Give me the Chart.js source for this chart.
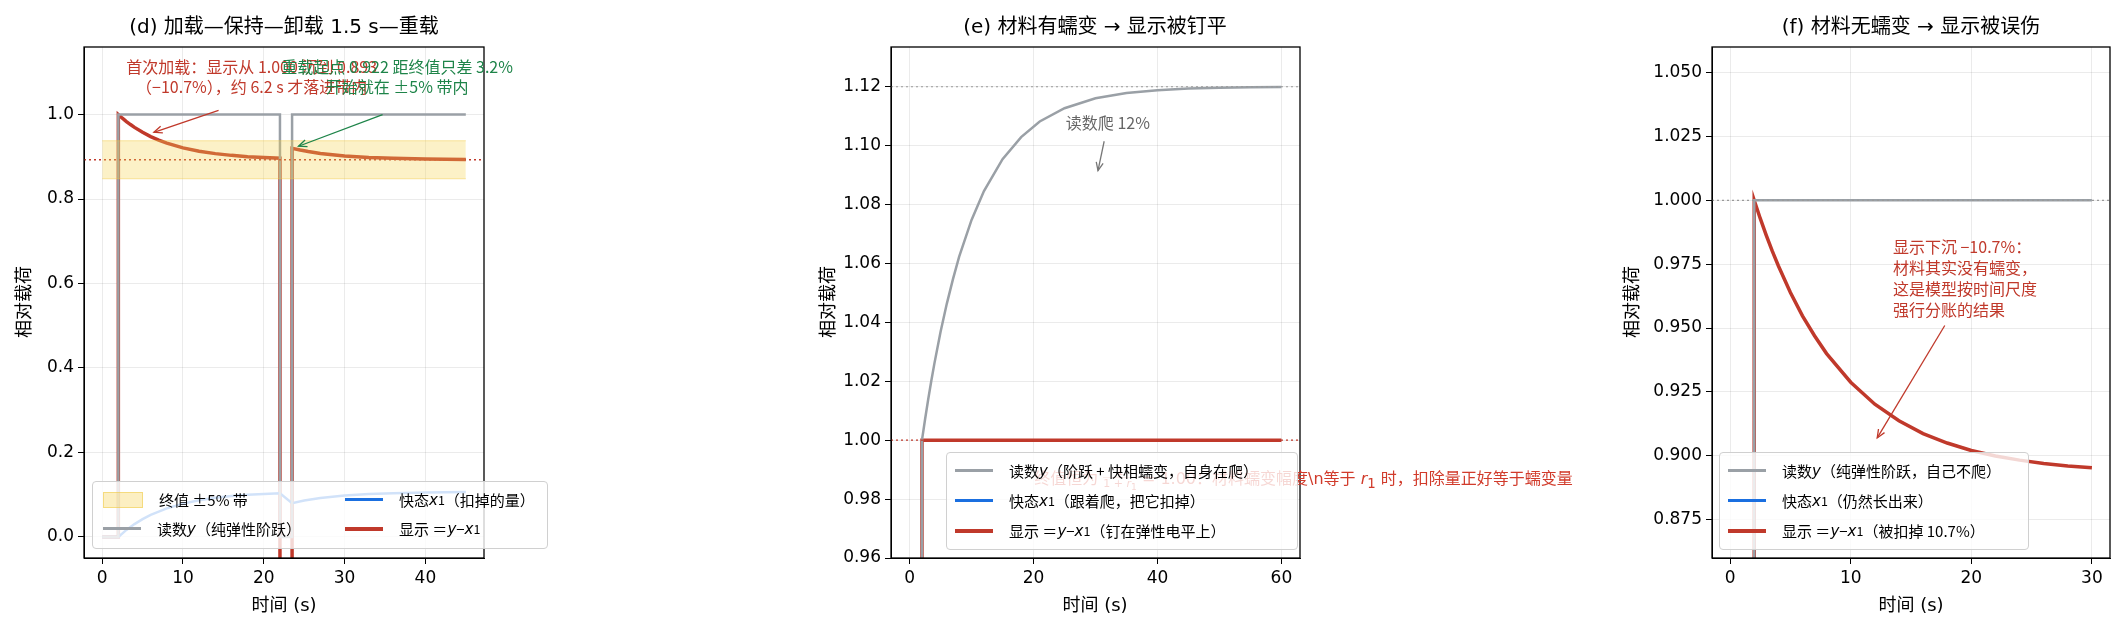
<!DOCTYPE html>
<html><head><meta charset="utf-8">
<script src="https://cdn.jsdelivr.net/npm/chart.js@4.4.1/dist/chart.umd.min.js"></script>
<style>
body{margin:0;background:#fff;width:2128px;height:633px;position:relative;overflow:hidden;font-family:"DejaVu Sans","Noto Sans CJK SC",sans-serif;}
canvas{position:absolute;top:0;}
.t{position:absolute;white-space:nowrap;color:#000;}
.title{font-size:20px;transform:translateX(-50%);top:10px;}
.xl{font-size:18px;transform:translateX(-50%);top:590px;}
.yl{font-size:18px;transform:translate(-50%,-50%) rotate(-90deg);}
.leg{position:absolute;background:rgba(255,255,255,0.8);border:1px solid #d0d0d0;border-radius:4px;font-size:15px;z-index:5;font-family:"Noto Sans CJK SC","DejaVu Sans",sans-serif;}
.li{position:absolute;display:flex;align-items:center;white-space:nowrap;}
.sw{width:38px;height:3.5px;margin-right:16px;}
i{font-family:"DejaVu Sans";}
</style></head><body>
<canvas id="cd" width="620" height="633" style="left:0"></canvas>
<canvas id="ce" width="540" height="633" style="left:780px"></canvas>
<canvas id="cf" width="528" height="633" style="left:1600px"></canvas>

<div class="t title" style="left:284px">(d) 加载—保持—卸载 1.5 s—重载</div>
<div class="t title" style="left:1095px">(e) 材料有蠕变 → 显示被钉平</div>
<div class="t title" style="left:1911px">(f) 材料无蠕变 → 显示被误伤</div>
<div class="t xl" style="left:284px">时间 (s)</div>
<div class="t xl" style="left:1095px">时间 (s)</div>
<div class="t xl" style="left:1911px">时间 (s)</div>
<div class="t yl" style="left:22px;top:302px">相对载荷</div>
<div class="t yl" style="left:826px;top:302px">相对载荷</div>
<div class="t yl" style="left:1630px;top:302px">相对载荷</div>

<div id="etext" class="t" style="color:#d13b2b;font-size:16px;z-index:2"></div>

<div class="leg" style="left:92px;top:481px;width:454px;height:66px">
 <div class="li" style="left:10px;top:7px"><div class="sw" style="height:14px;background:rgba(245,210,80,0.35);border:1px solid rgba(240,200,60,0.5)"></div>终值 ±5% 带</div>
 <div class="li" style="left:10px;top:36px"><div class="sw" style="background:#9aa0a6"></div>读数 <i>y</i>（纯弹性阶跃）</div>
 <div class="li" style="left:252px;top:7px"><div class="sw" style="background:#1a6fe0"></div>快态 <i>x</i><sub>1</sub>（扣掉的量）</div>
 <div class="li" style="left:252px;top:36px"><div class="sw" style="background:#c0392b;height:4px"></div>显示 ＝<i>y</i> − <i>x</i><sub>1</sub></div>
</div>
<div class="leg" style="left:946px;top:452px;width:350px;height:96px">
 <div class="li" style="left:8px;top:7px"><div class="sw" style="background:#9aa0a6"></div>读数 <i>y</i>（阶跃 + 快相蠕变，自身在爬）</div>
 <div class="li" style="left:8px;top:37px"><div class="sw" style="background:#1a6fe0"></div>快态 <i>x</i><sub>1</sub>（跟着爬，把它扣掉）</div>
 <div class="li" style="left:8px;top:67px"><div class="sw" style="background:#c0392b;height:4px"></div>显示 ＝<i>y</i> − <i>x</i><sub>1</sub>（钉在弹性电平上）</div>
</div>
<div class="leg" style="left:1719px;top:452px;width:308px;height:96px">
 <div class="li" style="left:8px;top:7px"><div class="sw" style="background:#9aa0a6"></div>读数 <i>y</i>（纯弹性阶跃，自己不爬）</div>
 <div class="li" style="left:8px;top:37px"><div class="sw" style="background:#1a6fe0"></div>快态 <i>x</i><sub>1</sub>（仍然长出来）</div>
 <div class="li" style="left:8px;top:67px"><div class="sw" style="background:#c0392b;height:4px"></div>显示 ＝<i>y</i> − <i>x</i><sub>1</sub>（被扣掉 10.7%）</div>
</div>

<script>
// ---------- Panel (d) data ----------
const D_T_Y   = [0, 2, 2, 22, 22, 23.5, 23.5, 45];
const D_Y     = [0, 0, 1, 1, 0, 0, 1, 1];
const D_T     = [0, 2, 2, 2.5, 3, 3.5, 4, 5, 6, 7, 8, 10, 12, 14, 16, 18, 20, 22, 22, 23.5, 23.5, 24.5, 25.5, 27, 30, 33, 36, 40, 45];
const D_DISP  = [0, 0, 1.0, 0.9914, 0.9835, 0.9764, 0.9697, 0.9579, 0.9479, 0.9395, 0.9324, 0.9212, 0.9132, 0.9075, 0.9034, 0.9004, 0.8983, 0.8968, -0.1032, -0.080, 0.920, 0.916, 0.9125, 0.908, 0.902, 0.8985, 0.8964, 0.8947, 0.8937];
const D_T_X1  = [0, 2, 3, 4, 5, 6, 8, 10, 12, 14, 16, 18, 20, 22, 23.5, 25, 27, 30, 33, 36, 40, 45];
const D_X1    = [0, 0, 0.0165, 0.0303, 0.0421, 0.0521, 0.0676, 0.0788, 0.0868, 0.0925, 0.0966, 0.0996, 0.1017, 0.1032, 0.080, 0.086, 0.0919, 0.0979, 0.1015, 0.1036, 0.1053, 0.1063];
const D_FINAL = 0.893;
const D_BAND  = [0.848, 0.938];
const D_XTICKS = [0, 10, 20, 30, 40];
const D_YTICKS = [0, 0.2, 0.4, 0.6, 0.8, 1.0];

// ---------- Panel (e) data ----------
const E_T     = [0, 2, 2, 2.5, 3, 3.5, 4, 5, 6, 7, 8, 10, 12, 15, 18, 21, 25, 30, 35, 40, 45, 50, 55, 60];
const E_Y     = [0, 0, 1.0, 1.0071, 1.0138, 1.0201, 1.0260, 1.0368, 1.0463, 1.0547, 1.0623, 1.0748, 1.0846, 1.0954, 1.1029, 1.1082, 1.1127, 1.1161, 1.1179, 1.1188, 1.1194, 1.1197, 1.1198, 1.1199];
const E_X1    = [0, 0, 0, 0.0071, 0.0138, 0.0201, 0.0260, 0.0368, 0.0463, 0.0547, 0.0623, 0.0748, 0.0846, 0.0954, 0.1029, 0.1082, 0.1127, 0.1161, 0.1179, 0.1188, 0.1194, 0.1197, 0.1198, 0.1199];
const E_T_D   = [0, 2, 2, 60];
const E_DISP  = [0, 0, 1.0, 1.0];
const E_XTICKS = [0, 20, 40, 60];
const E_YTICKS = [0.96, 0.98, 1.00, 1.02, 1.04, 1.06, 1.08, 1.10, 1.12];

// ---------- Panel (f) data ----------
const F_T_Y   = [0, 2, 2, 30];
const F_Y     = [0, 0, 1, 1];
const F_T     = [0, 2, 2, 2.5, 3, 3.5, 4, 5, 6, 7, 8, 10, 12, 14, 16, 18, 20, 22, 24, 26, 28, 30];
const F_DISP  = [0, 0, 1.0, 0.9929, 0.9863, 0.9801, 0.9744, 0.9639, 0.9548, 0.9470, 0.9400, 0.9288, 0.9202, 0.9137, 0.9087, 0.9050, 0.9021, 0.8999, 0.8983, 0.8970, 0.8960, 0.8953];
const F_X1    = [0, 0, 0, 0.0071, 0.0137, 0.0199, 0.0256, 0.0361, 0.0452, 0.0530, 0.0600, 0.0712, 0.0798, 0.0863, 0.0913, 0.0950, 0.0979, 0.1001, 0.1017, 0.1030, 0.1040, 0.1047];
const F_XTICKS = [0, 10, 20, 30];
const F_YTICKS = [0.875, 0.900, 0.925, 0.950, 0.975, 1.000, 1.025, 1.050];

const RED='#c0392b', GRAY='#9aa0a6', BLUE='#1a6fe0', GREEN='#1e8449';
const zip=(xs,ys)=>xs.map((x,i)=>({x,y:ys[i]}));
const FONT={family:'"DejaVu Sans","Noto Sans CJK SC"',size:17};

function line(data,color,w,extra){return Object.assign({data,borderColor:color,backgroundColor:color,borderWidth:w,pointRadius:0,fill:false,tension:0},extra||{});}

const framePlugin={id:'frame',afterDatasetsDraw(c){const a=c.chartArea,x=c.ctx;x.save();x.strokeStyle='#000';x.lineWidth=1.3;x.strokeRect(a.left,a.top,a.right-a.left,a.bottom-a.top);x.restore();}};

function arrow(ctx,x1,y1,x2,y2,color){ctx.save();ctx.strokeStyle=color;ctx.lineWidth=1.3;ctx.beginPath();ctx.moveTo(x1,y1);ctx.lineTo(x2,y2);ctx.stroke();
 const a=Math.atan2(y2-y1,x2-x1),L=9;ctx.beginPath();ctx.moveTo(x2-L*Math.cos(a-0.4),y2-L*Math.sin(a-0.4));ctx.lineTo(x2,y2);ctx.lineTo(x2-L*Math.cos(a+0.4),y2-L*Math.sin(a+0.4));ctx.stroke();ctx.restore();}
function texts(ctx,lines,x,y,color,align,lh){ctx.save();ctx.fillStyle=color;ctx.font='16px "Noto Sans CJK SC","DejaVu Sans"';ctx.textAlign=align;ctx.textBaseline='middle';lines.forEach((s,i)=>ctx.fillText(s,x,y+i*lh));ctx.restore();}

function makeChart(id,datasets,xr,yr,xt,yt,yw,padR,fmt,annot){
 const fixTicks=arr=>s=>{s.ticks=arr.map(v=>({value:v}));};
 return new Chart(document.getElementById(id),{type:'line',data:{datasets},
  options:{responsive:false,animation:false,devicePixelRatio:1,
   layout:{padding:{top:47,right:padR,left:0,bottom:0}},
   plugins:{legend:{display:false},tooltip:{enabled:false}},
   elements:{line:{borderCapStyle:'butt',borderJoinStyle:'miter'}},
   scales:{
    x:{type:'linear',min:xr[0],max:xr[1],afterBuildTicks:fixTicks(xt),afterFit:s=>{s.height=75;},
       grid:{color:'rgba(0,0,0,0.08)',tickColor:'#000',tickLength:6},border:{color:'#000'},
       ticks:{font:FONT,color:'#000',padding:4,callback:v=>String(v),maxRotation:0}},
    y:{type:'linear',min:yr[0],max:yr[1],afterBuildTicks:fixTicks(yt),afterFit:s=>{s.width=yw;},
       grid:{color:'rgba(0,0,0,0.08)',tickColor:'#000',tickLength:6},border:{color:'#000'},
       ticks:{font:FONT,color:'#000',padding:4,callback:v=>Number(v).toFixed(fmt)}}}},
  plugins:[framePlugin,{id:'ann',afterDatasetsDraw:annot}]});
}

// (d)
const cd=makeChart('cd',[
  line(zip([0,45],[D_BAND[0],D_BAND[0]]),'rgba(240,200,60,0.45)',1),
  line(zip([0,45],[D_BAND[1],D_BAND[1]]),'rgba(240,200,60,0.45)',1,{fill:'-1',backgroundColor:'rgba(245,210,80,0.32)'}),
  line(zip([-2.25,47.25],[D_FINAL,D_FINAL]),RED,1.3,{borderDash:[2,3]}),
  line(zip(D_T_Y,D_Y),GRAY,2.5),
  line(zip(D_T_X1,D_X1),BLUE,2.5),
  line(zip(D_T,D_DISP),RED,3.5)
 ],[-2.25,47.25],[-0.05,1.16],D_XTICKS,D_YTICKS,84,136,1,c=>{
  const X=v=>c.scales.x.getPixelForValue(v),Y=v=>c.scales.y.getPixelForValue(v),x=c.ctx;
  texts(x,['首次加载：显示从 1.000 沉到 0.893','（−10.7%），约 6.2 s 才落进带内'],X(18.5),Y(1.112),RED,'center',20);
  texts(x,['重载起点 0.922 距终值只差 3.2%','开始就在 ±5% 带内'],X(36.5),Y(1.112),GREEN,'center',20);
  arrow(x,X(14.4),Y(1.01),X(6.4),Y(0.958),RED);
  arrow(x,X(34.7),Y(1.0),X(24.3),Y(0.925),GREEN);
 });

// (e)
const ce=makeChart('ce',[
  line(zip([-3,63],[1.12,1.12]),'#999',1.2,{borderDash:[2,3]}),
  line(zip([-3,63],[1.0,1.0]),RED,1.3,{borderDash:[2,3]}),
  line(zip(E_T,E_Y),GRAY,2.5),
  line(zip(E_T,E_X1),BLUE,2.5),
  line(zip(E_T_D,E_DISP),RED,3.5)
 ],[-3,63],[0.96,1.1335],E_XTICKS,E_YTICKS,111,20,2,c=>{
  const X=v=>c.scales.x.getPixelForValue(v),Y=v=>c.scales.y.getPixelForValue(v),x=c.ctx;
  texts(x,['读数爬 12%'],X(32),Y(1.1077),'#666','center',20);
  arrow(x,X(31.4),Y(1.1015),X(30.4),Y(1.0915),'#777');
 });
{const el=document.getElementById('etext');
 el.innerHTML='终值恒为 <span style="display:inline-block;vertical-align:middle;text-align:center;font-size:11px;line-height:11px"><span style="display:block;border-bottom:1px solid #e8a8a0">1</span>1 + <i>r</i><sub>1</sub></span> = 1.00：材料蠕变幅度\\n等于 <i>r</i><sub>1</sub> 时，扣除量正好等于蠕变量';
 el.style.left=(780+ce.scales.x.getPixelForValue(20.1))+'px';
 el.style.top=(ce.scales.y.getPixelForValue(0.9875)-12)+'px';}

// (f)
const cf=makeChart('cf',[
  line(zip([-1.5,31.5],[1.0,1.0]),'#999',1.2,{borderDash:[2,3]}),
  line(zip(F_T_Y,F_Y),GRAY,2.5),
  line(zip(F_T,F_X1),BLUE,2.5),
  line(zip(F_T,F_DISP),RED,3.5)
 ],[-1.5,31.5],[0.86,1.06],F_XTICKS,F_YTICKS,112,18,3,c=>{
  const X=v=>c.scales.x.getPixelForValue(v),Y=v=>c.scales.y.getPixelForValue(v),x=c.ctx;
  texts(x,['显示下沉 −10.7%：','材料其实没有蠕变，','这是模型按时间尺度','强行分账的结果'],X(13.5),Y(0.9819),RED,'left',21);
  arrow(x,X(17.8),Y(0.951),X(12.2),Y(0.907),RED);
 });
</script>
</body></html>
